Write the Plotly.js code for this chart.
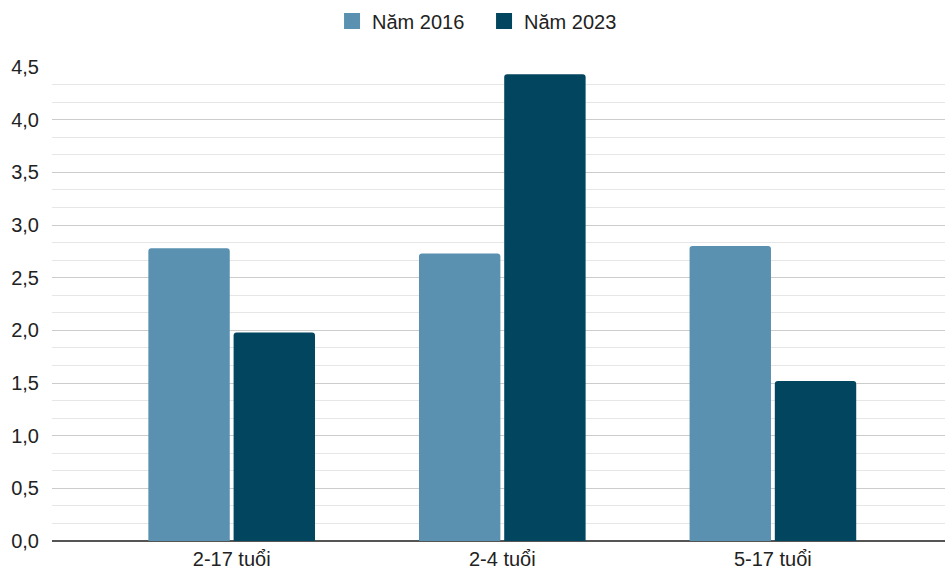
<!DOCTYPE html>
<html>
<head>
<meta charset="utf-8">
<script src="https://cdn.plot.ly/plotly-3.0.1.min.js"></script>
<style>html,body{margin:0;padding:0;background:#fff;}#chart{width:945px;height:571px;}</style>
</head>
<body>
<div id="chart"></div>
<script>
const categories = ["2-17 tuổi", "2-4 tuổi", "5-17 tuổi"];
const seriesNames = ["Năm 2016", "Năm 2023"];
const seriesColors = ["#5a91b0", "#02455f"];
const values2016 = [2.78, 2.73, 2.80];
const values2023 = [1.98, 4.43, 1.52];
const yTickVals = [0, 0.5, 1, 1.5, 2, 2.5, 3, 3.5, 4, 4.5];

const font = {family: "Liberation Sans, Arial, sans-serif", size: 20, color: "#222"};

const data = [
  {type: "bar", name: seriesNames[0], x: categories, y: values2016, showlegend: false,
   marker: {color: seriesColors[0], cornerradius: 3}, hoverinfo: "skip"},
  {type: "bar", name: seriesNames[1], x: categories, y: values2023, showlegend: false,
   marker: {color: seriesColors[1], cornerradius: 3}, hoverinfo: "skip"},
  {type: "scatter", mode: "markers", name: seriesNames[0], x: [null], y: [null],
   marker: {symbol: "square", size: 19, color: seriesColors[0]}, hoverinfo: "skip"},
  {type: "scatter", mode: "markers", name: seriesNames[1], x: [null], y: [null],
   marker: {symbol: "square", size: 19, color: seriesColors[1]}, hoverinfo: "skip"}
];

const layout = {
  width: 945, height: 571,
  margin: {l: 52, r: 0, t: 67, b: 30, autoexpand: false},
  font: font,
  separators: ",.",
  paper_bgcolor: "#fff", plot_bgcolor: "#fff",
  barmode: "group",
  bargap: 0.37,
  bargroupgap: 0.045,
  showlegend: true,
  legend: {orientation: "h", x: 0.3136, xanchor: "left", y: 1.097, yanchor: "middle",
           font: font, itemwidth: 30, entrywidth: 107, entrywidthmode: "pixels",
           traceorder: "normal", tracegroupgap: 0},
  xaxis: {
    type: "category", range: [-0.664, 2.636],
    showgrid: false, zeroline: false, showline: false,
    ticks: "", tickfont: font, ticklabelstandoff: 4, fixedrange: true
  },
  yaxis: {
    range: [0, 4.5], tickvals: yTickVals, tickformat: ".1f",
    showgrid: true, gridcolor: "#cccccc", gridwidth: 1,
    zeroline: true, zerolinecolor: "#555555", zerolinewidth: 2,
    minor: {dtick: 0.5/3, showgrid: true, gridcolor: "#e6e6e6", gridwidth: 1, ticks: ""},
    ticks: "", ticklabelstandoff: 12, tickfont: font, fixedrange: true
  }
};

Plotly.newPlot("chart", data, layout, {displayModeBar: false, staticPlot: true});
</script>
</body>
</html>
